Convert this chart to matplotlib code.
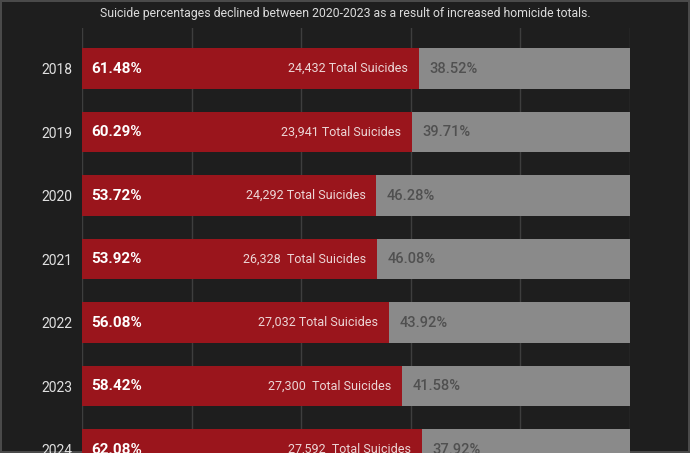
import matplotlib
matplotlib.use("Agg")
import matplotlib.pyplot as plt

plt.rcParams['font.family'] = ['Roboto', 'DejaVu Sans']

years = ['2018', '2019', '2020', '2021', '2022', '2023', '2024']
suicide_pct = [61.48, 60.29, 53.72, 53.92, 56.08, 58.42, 62.08]
homicide_pct = [38.52, 39.71, 46.28, 46.08, 43.92, 41.58, 37.92]
suicide_totals = ['24,432 Total Suicides', '23,941 Total Suicides', '24,292 Total Suicides',
                  '26,328  Total Suicides', '27,032 Total Suicides', '27,300  Total Suicides',
                  '27,592  Total Suicides']
title = 'Suicide percentages declined between 2020-2023 as a result of increased homicide totals.'

bg = '#1e1e1e'
red = '#9a151c'
grey = '#8a8a8a'

fig = plt.figure(figsize=(6.9, 4.53), dpi=100, facecolor=bg, edgecolor='#4a4a4a', linewidth=1.5)
ax = fig.add_axes([82 / 690, 0, 548 / 690, 1 - 28 / 453])
ax.set_facecolor(bg)

ypos = list(range(len(years)))
ax.barh(ypos, suicide_pct, height=0.645, color=red, zorder=2)
ax.barh(ypos, homicide_pct, left=suicide_pct, height=0.645, color=grey, zorder=2)

for y, s, h, t in zip(ypos, suicide_pct, homicide_pct, suicide_totals):
    ax.annotate(f'{s:.2f}%', (0, y), xytext=(9, 0), textcoords='offset pixels',
                ha='left', va='center', color='white', fontsize=11, fontweight='bold', zorder=3)
    ax.annotate(t, (s, y), xytext=(-11, 0), textcoords='offset pixels',
                ha='right', va='center', color='#ecd6d6', fontsize=9, zorder=3)
    ax.annotate(f'{h:.2f}%', (s, y), xytext=(10, 0), textcoords='offset pixels',
                ha='left', va='center', color='#505050', fontsize=10.5, fontweight='medium', zorder=3)

ax.set_xlim(0, 100)
ax.set_ylim(6.055, -0.638)
ax.set_xticks([0, 20, 40, 60, 80, 100])
ax.set_xticklabels([])
ax.set_yticks(ypos)
ax.set_yticklabels(years, color='#e0e0e0', fontsize=10)
ax.tick_params(axis='y', length=0, pad=7)
ax.tick_params(axis='x', length=0)
ax.grid(axis='x', color='#3e3e3e', linewidth=1, zorder=0)
for sp in ax.spines.values():
    sp.set_visible(False)

fig.text(0.5, 1 - 13 / 453, title, ha='center', va='center', color='#dcdcdc', fontsize=8.8)

fig.savefig('out.png', dpi=100, facecolor=bg)
